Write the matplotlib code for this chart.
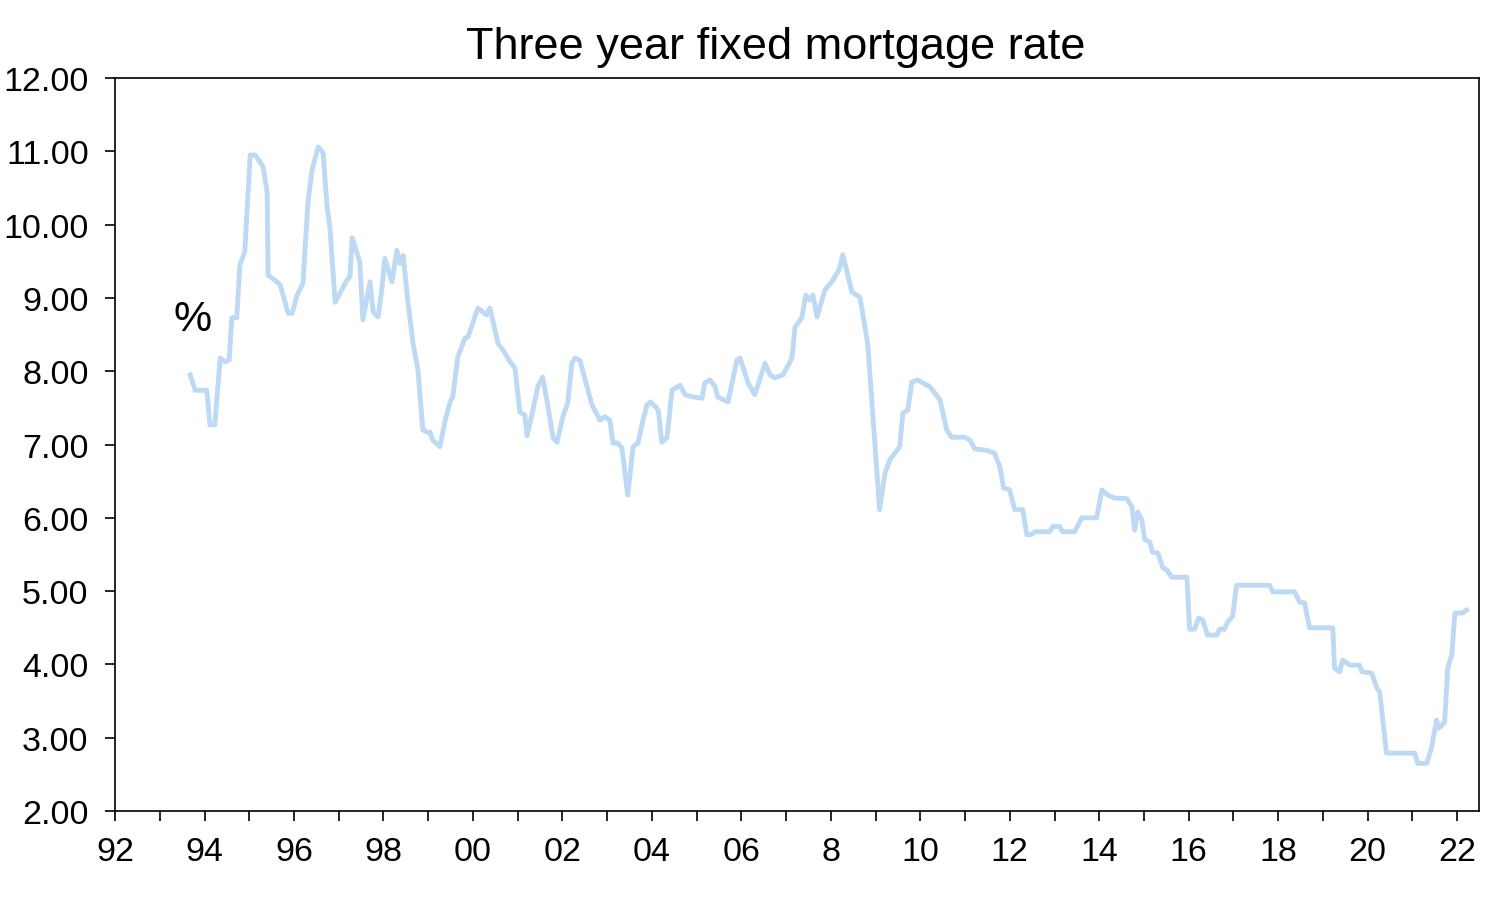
import numpy as np
import matplotlib.pyplot as plt
from matplotlib.ticker import MultipleLocator, FuncFormatter

# 日付（小数年）と金利（%）: 画像から読み取り
years = [
    1993.68, 1993.79, 1994.05, 1994.12, 1994.23, 1994.35, 1994.46, 1994.55, 1994.61, 1994.72,
    1994.79, 1994.90, 1995.02, 1995.13, 1995.31, 1995.40, 1995.42, 1995.58, 1995.69, 1995.87,
    1995.96, 1996.07, 1996.20, 1996.31, 1996.40, 1996.54, 1996.65, 1996.74, 1996.80, 1996.92,
    1997.18, 1997.25, 1997.30, 1997.47, 1997.54, 1997.70, 1997.77, 1997.88, 1997.97, 1998.03,
    1998.19, 1998.30, 1998.37, 1998.44, 1998.55, 1998.66, 1998.77, 1998.88, 1999.00, 1999.04,
    1999.10, 1999.26, 1999.38, 1999.49, 1999.55, 1999.66, 1999.82, 1999.89, 2000.11, 2000.31,
    2000.38, 2000.56, 2000.67, 2000.83, 2000.94, 2001.05, 2001.16, 2001.21, 2001.34, 2001.45,
    2001.56, 2001.68, 2001.79, 2001.88, 2002.01, 2002.12, 2002.21, 2002.28, 2002.39, 2002.55,
    2002.66, 2002.84, 2002.95, 2003.06, 2003.13, 2003.24, 2003.33, 2003.46, 2003.58, 2003.69,
    2003.80, 2003.89, 2003.96, 2004.11, 2004.15, 2004.22, 2004.34, 2004.45, 2004.63, 2004.74,
    2004.92, 2005.12, 2005.18, 2005.30, 2005.41, 2005.47, 2005.70, 2005.90, 2005.97, 2006.15,
    2006.30, 2006.53, 2006.64, 2006.75, 2006.93, 2007.13, 2007.20, 2007.35, 2007.44, 2007.53,
    2007.60, 2007.69, 2007.87, 2008.02, 2008.18, 2008.27, 2008.47, 2008.65, 2008.80, 2008.83,
    2009.09, 2009.21, 2009.32, 2009.54, 2009.61, 2009.72, 2009.81, 2009.94, 2010.21, 2010.44,
    2010.59, 2010.70, 2010.99, 2011.11, 2011.22, 2011.49, 2011.66, 2011.78, 2011.86, 2012.00,
    2012.11, 2012.29, 2012.38, 2012.47, 2012.56, 2012.89, 2012.96, 2013.12, 2013.18, 2013.45,
    2013.61, 2013.94, 2014.06, 2014.19, 2014.35, 2014.62, 2014.73, 2014.79, 2014.86, 2014.95,
    2015.02, 2015.13, 2015.19, 2015.31, 2015.42, 2015.51, 2015.62, 2015.96, 2016.02, 2016.13,
    2016.22, 2016.31, 2016.42, 2016.63, 2016.69, 2016.80, 2016.87, 2016.98, 2017.07, 2017.81,
    2017.88, 2018.37, 2018.48, 2018.59, 2018.70, 2019.22, 2019.26, 2019.37, 2019.44, 2019.60,
    2019.82, 2019.87, 2020.09, 2020.20, 2020.27, 2020.42, 2021.05, 2021.12, 2021.32, 2021.43,
    2021.54, 2021.59, 2021.72, 2021.79, 2021.88, 2021.95, 2022.12, 2022.21,
]
rate = [
    7.95, 7.74, 7.74, 7.27, 7.27, 8.18, 8.13, 8.15, 8.73, 8.73,
    9.45, 9.63, 10.95, 10.95, 10.79, 10.44, 9.31, 9.24, 9.18, 8.79,
    8.79, 9.04, 9.20, 10.29, 10.74, 11.06, 10.98, 10.24, 9.97, 8.94,
    9.24, 9.29, 9.82, 9.49, 8.70, 9.22, 8.81, 8.74, 9.15, 9.54,
    9.22, 9.65, 9.47, 9.58, 8.93, 8.38, 8.02, 7.20, 7.16, 7.17,
    7.06, 6.97, 7.33, 7.58, 7.65, 8.19, 8.45, 8.47, 8.86, 8.77,
    8.86, 8.38, 8.29, 8.13, 8.04, 7.44, 7.40, 7.12, 7.47, 7.79,
    7.92, 7.51, 7.09, 7.03, 7.38, 7.57, 8.11, 8.18, 8.15, 7.79,
    7.54, 7.33, 7.38, 7.33, 7.02, 7.02, 6.95, 6.31, 6.97, 7.02,
    7.33, 7.54, 7.58, 7.50, 7.44, 7.03, 7.10, 7.74, 7.81, 7.68,
    7.65, 7.63, 7.84, 7.88, 7.79, 7.65, 7.58, 8.15, 8.18, 7.84,
    7.68, 8.11, 7.95, 7.91, 7.95, 8.18, 8.60, 8.73, 9.04, 8.97,
    9.04, 8.74, 9.11, 9.22, 9.38, 9.59, 9.08, 9.01, 8.47, 8.33,
    6.11, 6.61, 6.79, 6.97, 7.43, 7.47, 7.85, 7.88, 7.79, 7.61,
    7.20, 7.10, 7.10, 7.06, 6.94, 6.92, 6.88, 6.69, 6.41, 6.38,
    6.11, 6.11, 5.77, 5.77, 5.81, 5.81, 5.88, 5.88, 5.81, 5.81,
    6.00, 6.00, 6.38, 6.31, 6.27, 6.26, 6.15, 5.83, 6.08, 5.97,
    5.70, 5.67, 5.53, 5.52, 5.32, 5.29, 5.19, 5.19, 4.48, 4.48,
    4.63, 4.61, 4.40, 4.40, 4.48, 4.48, 4.58, 4.65, 5.08, 5.08,
    4.99, 4.99, 4.85, 4.84, 4.50, 4.50, 3.95, 3.90, 4.06, 3.99,
    3.99, 3.90, 3.88, 3.69, 3.62, 2.79, 2.79, 2.65, 2.65, 2.87,
    3.24, 3.13, 3.21, 3.95, 4.13, 4.70, 4.70, 4.74,
]

title = "Three year fixed mortgage rate"
unit_label = "%"

plt.rcParams['font.family'] = ['Liberation Sans', 'DejaVu Sans']

fig = plt.figure(figsize=(15.08, 9.2), dpi=100)
ax = fig.add_axes([0.0763, 0.1174, 0.9045, 0.7967])

ax.plot(years, rate, color="#bdd9f4", lw=3.5, solid_joinstyle="round")

ax.set_xlim(1992, 2022.49)
ax.set_ylim(2, 12)

ax.xaxis.set_major_locator(MultipleLocator(2))
ax.xaxis.set_minor_locator(MultipleLocator(1))
ax.yaxis.set_major_locator(MultipleLocator(1))

def year_fmt(v, pos):
    y = int(round(v))
    if y == 2008:
        return "8"
    return f"{y % 100:02d}"

ax.xaxis.set_major_formatter(FuncFormatter(year_fmt))
ax.yaxis.set_major_formatter(FuncFormatter(lambda v, pos: f"{v:.2f}"))

ax.tick_params(axis="both", which="both", direction="out", length=7,
               width=1.2, labelsize=24.5)
ax.tick_params(axis="x", which="major", pad=11)
ax.tick_params(axis="y", pad=12)
for s in ax.spines.values():
    s.set_linewidth(1.2)

# タイトルは図全体の中央よりやや左
fig.text(0.5146, 0.948, title, fontsize=32.5, ha="center", va="center")
ax.text(1993.74, 8.71, unit_label, fontsize=31, ha="center", va="center")

plt.savefig("out.png", dpi=100)
plt.close()
